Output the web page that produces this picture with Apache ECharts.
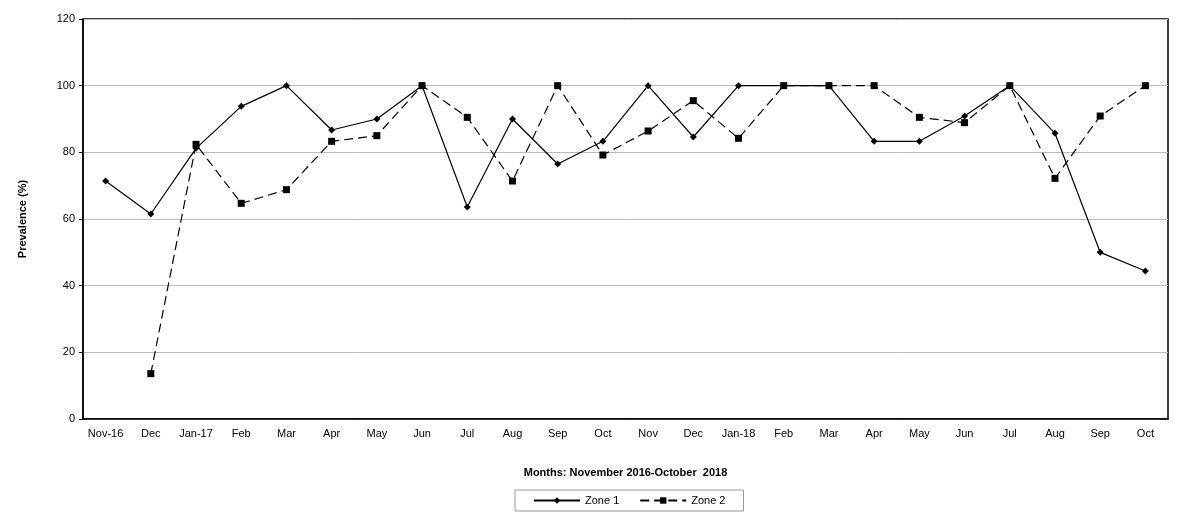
<!DOCTYPE html>
<html>
<head>
<meta charset="UTF-8">
<title>Prevalence</title>
<script type="text/javascript" src="https://cdn.jsdelivr.net/npm/echarts@6/dist/echarts.min.js"></script>
<style>
body { margin: 0; background: #fff; }
</style>
</head>
<body>
<div id="main" style="width: 1200px; height: 521px"></div>

<script type="text/javascript">
	// categories and values
	var months = ['Nov-16', 'Dec', 'Jan-17', 'Feb', 'Mar', 'Apr', 'May', 'Jun', 'Jul', 'Aug', 'Sep', 'Oct',
		'Nov', 'Dec', 'Jan-18', 'Feb', 'Mar', 'Apr', 'May', 'Jun', 'Jul', 'Aug', 'Sep', 'Oct'];
	var zone1 = [71.4, 61.5, 81.2, 93.8, 100, 86.7, 90, 100, 63.6, 90, 76.5, 83.3,
		100, 84.6, 100, 100, 100, 83.3, 83.3, 90.9, 100, 85.7, 50, 44.4];
	var zone2 = [null, 13.6, 82.4, 64.7, 68.8, 83.3, 85, 100, 90.5, 71.4, 100, 79.2,
		86.4, 95.5, 84.2, 100, 100, 100, 90.5, 88.9, 100, 72.2, 90.9, 100];
	var yTicks = [0, 20, 40, 60, 80, 100, 120];

	var mychart = echarts.init(document.getElementById('main'));
	var font = 'Liberation Sans, Arial, sans-serif';
	var option = {
		animation: false,
		textStyle: { fontFamily: font, color: '#000' },
		grid: {
			left: 83, right: 32, top: 19, bottom: 102,
			show: true, borderColor: '#000', borderWidth: 1.5, backgroundColor: '#fff'
		},
		legend: {
			data: ['Zone 1', 'Zone 2'],
			bottom: 10,
			left: 515,
			itemWidth: 46,
			itemHeight: 8,
			itemGap: 20,
			padding: [5, 18, 5, 18],
			borderColor: '#999',
			borderWidth: 1,
			borderRadius: 0,
			textStyle: { fontSize: 11, color: '#000', fontFamily: font }
		},
		xAxis: {
			type: 'category',
			data: months,
			name: 'Months: November 2016-October  2018',
			nameLocation: 'middle',
			nameGap: 48,
			nameTextStyle: { fontWeight: 'bold', fontSize: 11, color: '#000' },
			axisLine: { lineStyle: { color: '#000', width: 1.5 } },
			axisTick: { lineStyle: { color: '#999' }, length: 4 },
			axisLabel: { interval: 0, fontSize: 11, color: '#000', margin: 9 }
		},
		yAxis: {
			type: 'value',
			min: 0, max: 120, interval: 20,
			name: 'Prevalence (%)',
			nameLocation: 'middle',
			nameGap: 55,
			nameTextStyle: { fontWeight: 'bold', fontSize: 11, color: '#000' },
			axisLine: { show: true, lineStyle: { color: '#000', width: 1.5 } },
			axisTick: { show: true, lineStyle: { color: '#000' }, length: 4 },
			axisLabel: {
				fontSize: 11, color: '#000', margin: 8,
				formatter: function (v) { return yTicks.indexOf(v) >= 0 ? String(v) : ''; }
			},
			splitLine: { lineStyle: { color: '#bbb', width: 1 } }
		},
		series: [{
			name: 'Zone 1',
			type: 'line',
			data: zone1,
			symbol: 'diamond',
			symbolSize: 7,
			itemStyle: { color: '#000' },
			lineStyle: { color: '#000', width: 1.2, type: 'solid' }
		},
		{
			name: 'Zone 2',
			type: 'line',
			data: zone2,
			connectNulls: false,
			symbol: 'rect',
			symbolSize: 7,
			itemStyle: { color: '#000' },
			lineStyle: { color: '#000', width: 1.2, type: [9, 5] }
		}]
	};
	mychart.setOption(option);
</script>
</body>
</html>
